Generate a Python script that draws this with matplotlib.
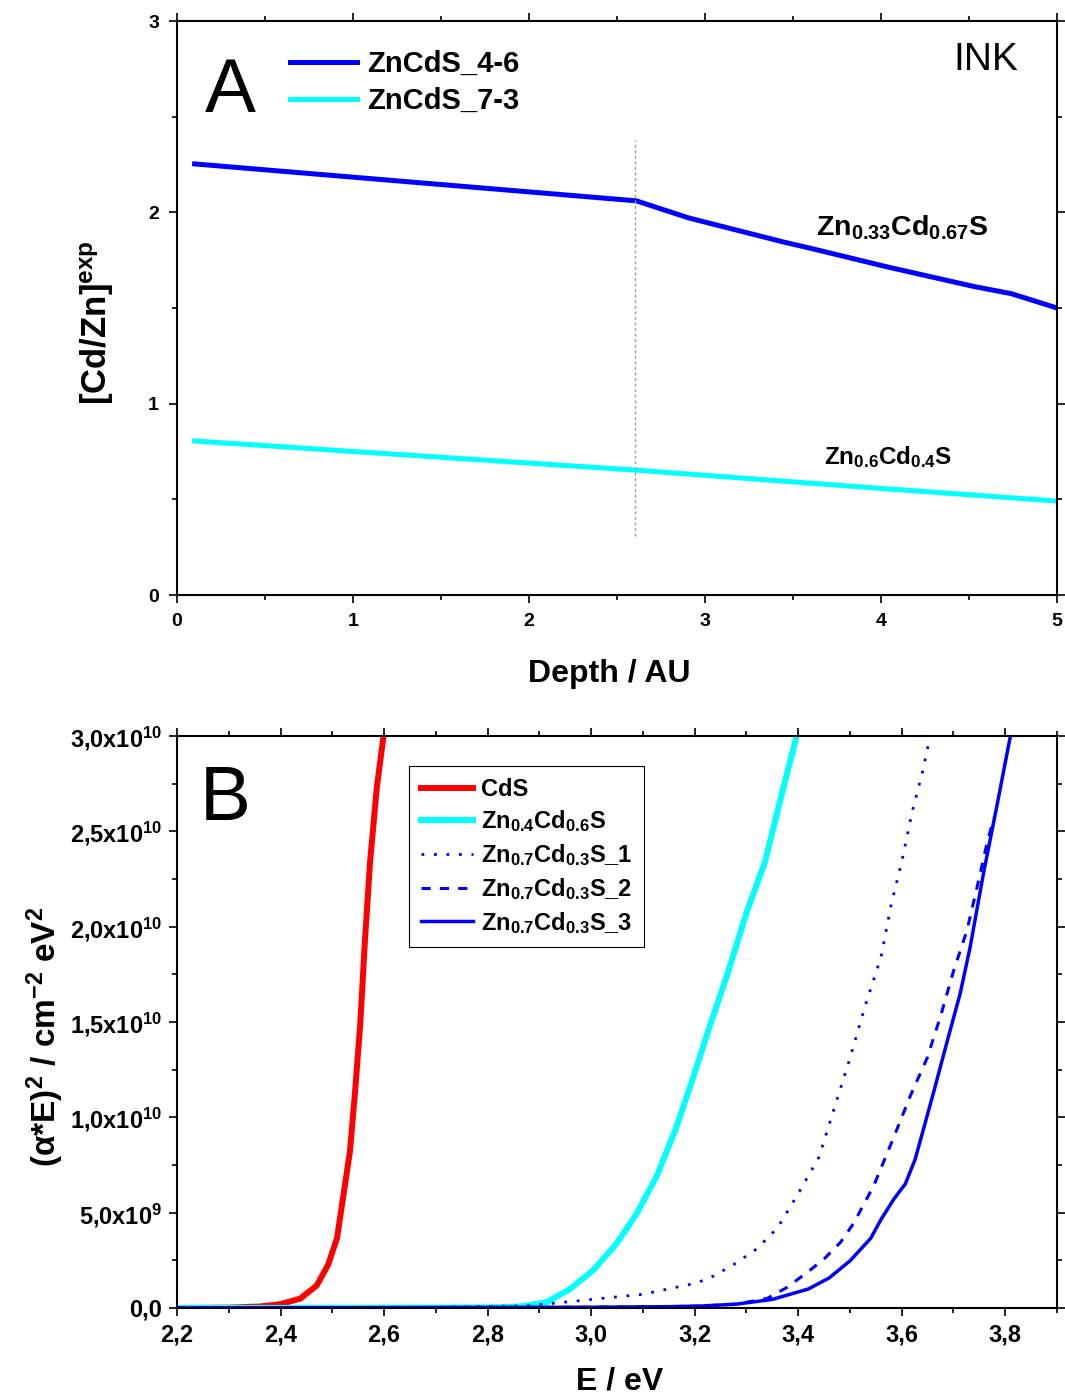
import matplotlib
matplotlib.use("Agg")
import matplotlib.pyplot as plt
from matplotlib.ticker import FixedLocator, FixedFormatter, MultipleLocator

plt.rcParams['font.family'] = ['Liberation Sans', 'DejaVu Sans']
plt.rcParams['font.weight'] = 'bold'
plt.rcParams['mathtext.fontset'] = 'custom'
plt.rcParams['mathtext.rm'] = 'Liberation Sans:bold'
plt.rcParams['mathtext.bf'] = 'Liberation Sans:bold'
plt.rcParams['mathtext.it'] = 'Liberation Sans:bold:italic'
plt.rcParams['mathtext.default'] = 'bf'

# ---------------- Panel A: composition ratio vs depth ----------------
depth_46 = [0.1, 2.61, 2.91, 3.45, 3.60, 4.03, 4.53, 4.74, 5.0]
ratio_46 = [2.253, 2.06, 1.97, 1.844, 1.812, 1.716, 1.612, 1.575, 1.50]

depth_73 = [0.1, 2.6, 4.0, 5.0]
ratio_73 = [0.805, 0.653, 0.557, 0.491]

interface_depth = 2.6
interface_span = (0.31, 2.38)

depth_ticks = [0, 1, 2, 3, 4, 5]
ratio_ticks = [0, 1, 2, 3]

# ---------------- Panel B: Tauc plot ----------------
E_cds = [2.2, 2.30, 2.36, 2.399, 2.438, 2.470, 2.492, 2.509, 2.521, 2.534,
         2.544, 2.554, 2.563, 2.573, 2.586, 2.599]
T_cds = [0.0, 0.02, 0.08, 0.2, 0.49, 1.18, 2.27, 3.65, 5.82, 8.19,
         11.35, 14.9, 19.24, 23.4, 27.3, 30.0]

E_zn04 = [2.2, 2.6, 2.80, 2.863, 2.914, 2.959, 3.004, 3.049, 3.088, 3.127,
          3.165, 3.197, 3.230, 3.262, 3.301, 3.336, 3.365, 3.397]
T_zn04 = [0.0, 0.01, 0.03, 0.08, 0.3, 0.99, 1.98, 3.37, 4.95, 6.93,
          9.5, 12.08, 14.85, 17.4, 20.8, 23.4, 26.6, 30.0]

E_zn07_1 = [2.2, 2.5, 2.6, 2.7, 2.8, 2.88, 2.99, 3.10, 3.20, 3.23, 3.275,
            3.32, 3.36, 3.40, 3.44, 3.47, 3.50, 3.53, 3.56, 3.58, 3.60,
            3.62, 3.64, 3.655]
T_zn07_1 = [0.0, 0.01, 0.02, 0.04, 0.07, 0.12, 0.42, 0.72, 1.29, 1.58, 2.27,
            3.1, 4.2, 6.0, 7.9, 10.5, 13.1, 15.9, 18.4, 21.2, 23.4,
            26.0, 28.1, 30.0]

E_zn07_2 = [2.2, 2.6, 3.0, 3.15, 3.21, 3.28, 3.34, 3.379, 3.418, 3.450,
            3.482, 3.507, 3.546, 3.585, 3.617, 3.649, 3.675, 3.700, 3.726,
            3.745, 3.765, 3.778]
T_zn07_2 = [0.0, 0.02, 0.04, 0.07, 0.1, 0.2, 0.5, 1.09, 1.88, 2.57,
            3.45, 4.44, 6.41, 8.98, 11.15, 13.1, 15.3, 17.66, 19.8,
            22.0, 24.4, 25.7]

E_zn07_3 = [2.2, 2.6, 3.0, 3.15, 3.21, 3.28, 3.35, 3.42, 3.46, 3.50, 3.54,
            3.56, 3.585, 3.607, 3.626, 3.662, 3.687, 3.713, 3.732, 3.758,
            3.784, 3.81]
T_zn07_3 = [0.0, 0.02, 0.04, 0.07, 0.1, 0.2, 0.45, 1.0, 1.58, 2.47, 3.65,
            4.64, 5.72, 6.51, 7.8, 11.35, 13.9, 16.5, 18.9, 22.8,
            26.35, 30.0]

tauc_scale = 1e9

E_ticks = [2.2, 2.4, 2.6, 2.8, 3.0, 3.2, 3.4, 3.6, 3.8]
E_ticklabels = ['2,2', '2,4', '2,6', '2,8', '3,0', '3,2', '3,4', '3,6', '3,8']
T_ticks = [0, 5e9, 1e10, 1.5e10, 2e10, 2.5e10, 3e10]
T_ticklabels = ['0,0', r'5,0x10$^{9}$', r'1,0x10$^{10}$', r'1,5x10$^{10}$',
                r'2,0x10$^{10}$', r'2,5x10$^{10}$', r'3,0x10$^{10}$']

W, H = 1065, 1396
fig = plt.figure(figsize=(W / 100, H / 100), dpi=100)


def px_axes(left, top, right, bottom):
    return fig.add_axes([left / W, 1 - bottom / H, (right - left) / W,
                         (bottom - top) / H])


def style_axes(ax, labelsize, pad):
    for s in ax.spines.values():
        s.set_linewidth(1.5)
    ax.tick_params(which='both', direction='out', top=True, right=True,
                   width=1.2, labelsize=labelsize, pad=pad)
    ax.tick_params(which='major', length=6)
    ax.tick_params(which='minor', length=3.5)


# ---- Panel A ----
axA = px_axes(177, 21, 1057, 595)
axA.plot(depth_46, ratio_46, color='#0000ff', lw=3.6, label='ZnCdS_4-6',
         solid_joinstyle='round')
axA.plot(depth_73, ratio_73, color='#00ffff', lw=3.6, label='ZnCdS_7-3')
axA.vlines(interface_depth, *interface_span, colors='#999999', lw=1.0,
           linestyles=(0, (2, 2)))
axA.set_xlim(0, 5)
axA.set_ylim(0, 3)
axA.xaxis.set_major_locator(FixedLocator(depth_ticks))
axA.yaxis.set_major_locator(FixedLocator(ratio_ticks))
axA.xaxis.set_minor_locator(MultipleLocator(0.5))
axA.yaxis.set_minor_locator(MultipleLocator(0.5))
style_axes(axA, 14, 7)

axA.text(0.16, 2.525, 'A', fontsize=55, fontweight='normal', ha='left',
         va='baseline')
axA.text(4.78, 2.744, 'INK', fontsize=28, fontweight='normal', ha='right',
         va='baseline')
axA.text(3.63, 1.88, r'Zn$_{0.33}$Cd$_{0.67}$S', fontsize=20.5, ha='left',
         va='baseline')
axA.text(3.676, 0.685, r'Zn$_{0.6}$Cd$_{0.4}$S', fontsize=17.5, ha='left',
         va='baseline')

axA.legend(loc='upper left', bbox_to_anchor=(290 / W, 1 - 50 / H),
           bbox_transform=fig.transFigure, frameon=False, borderpad=0,
           borderaxespad=0, fontsize=21, handlelength=2.3,
           handletextpad=0.34, labelspacing=0.3)

fig.text(609 / W, 1 - 674 / H, 'Depth / AU', fontsize=23, ha='center',
         va='center')
fig.text(97 / W, 1 - 323 / H, r'[Cd/Zn]$^{exp}$', fontsize=25, rotation=90,
         ha='center', va='center')

# ---- Panel B ----
axB = px_axes(177, 736, 1057, 1308)
axB.plot(E_cds, [v * tauc_scale for v in T_cds], color='#ff0000', lw=4.3,
         label='CdS')
axB.plot(E_zn04, [v * tauc_scale for v in T_zn04], color='#00ffff', lw=4.3,
         label=r'Zn$_{0.4}$Cd$_{0.6}$S')
axB.plot(E_zn07_1, [v * tauc_scale for v in T_zn07_1], color='#0000ff',
         lw=2.0, linestyle=(0, (1, 3.5)), dash_capstyle='butt',
         label=r'Zn$_{0.7}$Cd$_{0.3}$S_1')
axB.plot(E_zn07_2, [v * tauc_scale for v in T_zn07_2], color='#0000ff',
         lw=2.2, linestyle=(0, (3, 3)), label=r'Zn$_{0.7}$Cd$_{0.3}$S_2')
axB.plot(E_zn07_3, [v * tauc_scale for v in T_zn07_3], color='#0000ff',
         lw=2.5, label=r'Zn$_{0.7}$Cd$_{0.3}$S_3')
axB.set_xlim(2.2, 3.9)
axB.set_ylim(0, 3e10)
axB.xaxis.set_major_locator(FixedLocator(E_ticks))
axB.xaxis.set_major_formatter(FixedFormatter(E_ticklabels))
axB.yaxis.set_major_locator(FixedLocator(T_ticks))
axB.yaxis.set_major_formatter(FixedFormatter(T_ticklabels))
axB.xaxis.set_minor_locator(MultipleLocator(0.1))
axB.yaxis.set_minor_locator(MultipleLocator(2.5e9))
style_axes(axB, 17, 5)

axB.text(2.244, 25.6e9, 'B', fontsize=55, fontweight='normal', ha='left',
         va='baseline')

legB = axB.legend(loc='upper left', bbox_to_anchor=(409 / W, 1 - 766 / H),
                  bbox_transform=fig.transFigure, frameon=True,
                  fancybox=False, edgecolor='black', framealpha=1,
                  borderpad=0.5, borderaxespad=0, fontsize=17,
                  handlelength=2.2, handletextpad=0.34, labelspacing=0.33)
legB.get_frame().set_linewidth(0.8)

fig.text(620 / W, 1 - 1382 / H, 'E / eV', fontsize=23, ha='center',
         va='center')
fig.text(45 / W, 1 - 1037 / H,
         r'($\alpha$*E)$^{2}$ / cm$^{-2}$ eV$^{2}$', fontsize=24,
         rotation=90, ha='center', va='center')

fig.savefig('out.png', dpi=100)
